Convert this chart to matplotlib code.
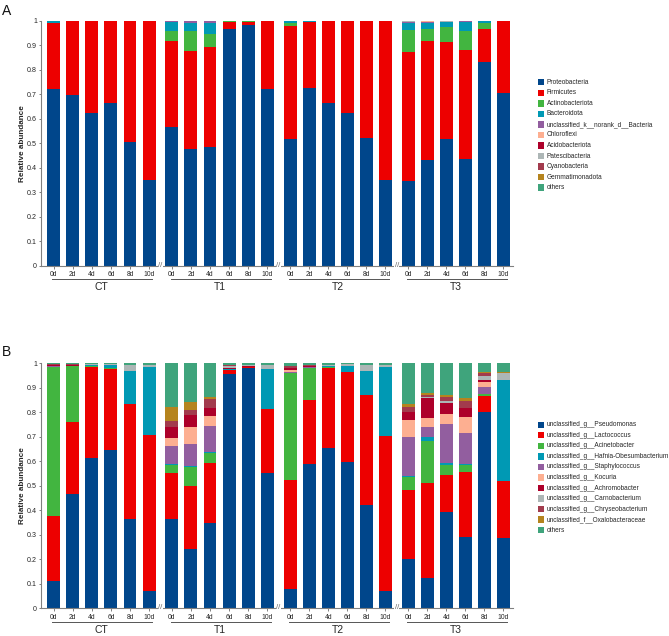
import matplotlib
matplotlib.use('Agg')
import matplotlib.pyplot as plt
from matplotlib.patches import Rectangle
import numpy as np

plt.rcParams['font.family'] = ['Liberation Sans', 'DejaVu Sans']

# sample layout
groups = ['CT', 'T1', 'T2', 'T3']
days = ['0d', '2d', '4d', '6d', '8d', '10d']

# ---- panel A: phylum level (CT 0-10d, T1 0-10d, T2 0-10d, T3 0-10d) ----
phylum_names = ['Proteobacteria', 'Firmicutes', 'Actinobacteriota', 'Bacteroidota',
                'unclassified_k__norank_d__Bacteria', 'Chloroflexi', 'Acidobacteriota',
                'Patescibacteria', 'Cyanobacteria', 'Gemmatimonadota', 'others']
proteobacteria = [.72, .695, .622, .665, .505, .35,
                  .568, .478, .484, .967, .983, .72,
                  .517, .727, .664, .623, .522, .35,
                  .346, .431, .517, .437, .833, .703]
firmicutes = [.27, .302, .377, .334, .494, .65,
              .349, .398, .409, .029, .013, .28,
              .461, .269, .336, .377, .478, .65,
              .526, .486, .397, .445, .132, .297]
actinobacteriota = [.002, 0, 0, 0, 0, 0,
                    .04, .081, .052, .004, .004, 0,
                    .011, 0, 0, 0, 0, 0,
                    .091, .049, .059, .077, .024, 0]
bacteroidota = [.006, .003, .001, .001, .001, 0,
                .038, .033, .045, 0, 0, 0,
                .011, .004, 0, 0, 0, 0,
                .029, .023, .023, .037, .011, 0]
uncl_bacteria = [.001, 0, 0, 0, 0, 0,
                 .005, .007, .007, 0, 0, 0,
                 0, 0, 0, 0, 0, 0,
                 .004, .005, 0, .004, 0, 0]
chloroflexi = [0] * 18 + [0, .003, 0, 0, 0, 0]
acidobacteriota = [0] * 18 + [0, .001, 0, 0, 0, 0]
patescibacteria = [0, 0, 0, 0, 0, 0,
                   0, .003, .003, 0, 0, 0,
                   0, 0, 0, 0, 0, 0,
                   .004, .002, .004, 0, 0, 0]
cyanobacteria = [0] * 24
gemmatimonadota = [0] * 24
phylum_others = [.001] + [0] * 23

phylum_values = [proteobacteria, firmicutes, actinobacteriota, bacteroidota, uncl_bacteria,
                 chloroflexi, acidobacteriota, patescibacteria, cyanobacteria,
                 gemmatimonadota, phylum_others]

# ---- panel B: genus level ----
genus_names = ['unclassified_g__Pseudomonas', 'unclassified_g__Lactococcus',
               'unclassified_g__Acinetobacter', 'unclassified_g__Hafnia-Obesumbacterium',
               'unclassified_g__Staphylococcus', 'unclassified_g__Kocuria',
               'unclassified_g__Achromobacter', 'unclassified_g__Carnobacterium',
               'unclassified_g__Chryseobacterium', 'unclassified_f__Oxalobacteraceae', 'others']
pseudomonas = [.11, .465, .615, .648, .365, .07,
               .363, .242, .35, .956, .98, .553,
               .078, .589, .656, .599, .42, .071,
               .201, .125, .392, .29, .8, .288]
lactococcus = [.265, .295, .37, .33, .47, .636,
               .19, .258, .242, .017, .006, .259,
               .446, .261, .326, .367, .449, .634,
               .282, .387, .154, .265, .065, .233]
acinetobacter = [.61, .228, .004, .001, 0, 0,
                 .032, .078, .042, 0, 0, 0,
                 .435, .132, .004, 0, 0, 0,
                 .054, .171, .039, .031, .008, 0]
hafnia = [0, 0, .003, .014, .133, .277,
          .003, .003, .005, .005, 0, .165,
          0, 0, .003, .024, .1, .279,
          .004, .017, .007, .003, 0, .411]
staphylococcus = [.002, .002, 0, 0, 0, 0,
                  .076, .088, .106, 0, 0, 0,
                  .006, .003, 0, 0, 0, 0,
                  .158, .041, .16, .128, .029, 0]
kocuria = [.002, .001, 0, 0, 0, 0,
           .03, .07, .041, 0, 0, 0,
           .007, .001, 0, 0, 0, 0,
           .07, .034, .041, .063, .02, 0]
achromobacter = [.003, .002, .001, 0, 0, 0,
                 .047, .05, .033, .001, .004, 0,
                 .007, .002, 0, 0, 0, 0,
                 .033, .085, .044, .039, .01, 0]
carnobacterium = [.003, .002, .003, .003, .025, .01,
                  0, 0, 0, .012, .003, .016,
                  .002, .003, .004, .006, .024, .01,
                  0, .004, .01, 0, .017, .027]
chryseobacterium = [.002, .002, .001, .001, .001, .001,
                    .024, .021, .034, .001, .002, .001,
                    .007, .004, .001, 0, 0, 0,
                    .018, .007, .017, .029, .01, 0]
oxalobacteraceae = [0, 0, 0, 0, 0, 0,
                    .058, .031, .011, 0, 0, 0,
                    0, 0, 0, 0, 0, 0,
                    .013, .006, .007, .009, .004, .004]
genus_others = [.003, .003, .003, .003, .006, .006,
                .177, .159, .136, .008, .005, .006,
                .012, .005, .006, .004, .007, .006,
                .167, .123, .129, .143, .037, .037]

genus_values = [pseudomonas, lactococcus, acinetobacter, hafnia, staphylococcus, kocuria,
                achromobacter, carnobacterium, chryseobacterium, oxalobacteraceae, genus_others]

colors = ['#00468B', '#ED0000', '#42B540', '#0099B4', '#925E9F', '#FDAF91',
          '#AD002A', '#ADB6B6', '#A23B4D', '#B5841E', '#3FA47C']

W, H = 669, 636
AXIS_GRAY = '#808080'
TXT = '#262626'


def px_box(left, top, right, bottom):
    return [left / W, 1 - bottom / H, (right - left) / W, (bottom - top) / H]


def draw_panel(fig, rect, values, names, letter, letter_y, legend_y0):
    ax = fig.add_axes(rect)
    ax_h = rect[3] * H
    x = []
    for g in range(len(groups)):
        x += [g * 6.2 + i for i in range(len(days))]
    x = np.array(x)

    bottom = np.zeros(len(x))
    for vals, col in zip(values, colors):
        vals = np.array(vals, dtype=float)
        ax.bar(x, vals, width=0.68, bottom=bottom, color=col, linewidth=0)
        bottom += vals

    ax.set_xlim(-0.67, 24.1)
    ax.set_ylim(0, 1)
    for s in ['top', 'right']:
        ax.spines[s].set_visible(False)
    for s in ['left', 'bottom']:
        ax.spines[s].set_color(AXIS_GRAY)
        ax.spines[s].set_linewidth(0.8)

    yt = np.round(np.arange(0, 1.01, 0.1), 1)
    ax.set_yticks(yt)
    ax.set_yticklabels(['0' if v == 0 else ('1' if v == 1 else f'{v:g}') for v in yt])
    ax.set_xticks(x)
    ax.set_xticklabels(days * len(groups))
    ax.tick_params(axis='y', length=1.6, width=0.7, color=AXIS_GRAY, pad=1.2,
                   labelsize=5.1, labelcolor=TXT)
    ax.tick_params(axis='x', length=1.8, width=0.7, color=AXIS_GRAY, pad=2.2,
                   labelsize=4.9, labelcolor=TXT)

    ax.text(-18.5 / (rect[2] * W), 0.5, 'Relative abundance', transform=ax.transAxes,
            rotation=90, ha='center', va='center', fontsize=5.9, fontweight='bold', color=TXT)

    trans = ax.get_xaxis_transform()
    for g, name in enumerate(groups):
        x0 = g * 6.2 - 0.07
        x1 = g * 6.2 + 5 + 0.18
        ax.plot([x0, x1], [-13.6 / ax_h] * 2, color='#555555', lw=0.7,
                transform=trans, clip_on=False)
        ax.text(g * 6.2 + 2.5, -21.6 / ax_h, name, transform=trans, ha='center',
                va='center', fontsize=7.5, color=TXT)
        if g > 0:
            # axis break marks between groups
            mid = g * 6.2 - 0.6
            ax.text(mid, 0.5 / ax_h, '//', transform=trans, ha='center', va='center',
                    fontsize=5.5, color='#666666', clip_on=False,
                    bbox=dict(boxstyle='square,pad=0.02', fc='white', ec='none'))

    fig.text(2 / W, 1 - letter_y / H, letter, fontsize=10, ha='left', va='top', color='#111111')

    # legend
    for k, (name, col) in enumerate(zip(names, colors)):
        cy = legend_y0 + k * 10.55
        fig.add_artist(Rectangle((537.7 / W, 1 - (cy + 3.2) / H), 6.3 / W, 6.4 / H,
                                 transform=fig.transFigure, color=col, lw=0))
        fig.text(546.5 / W, 1 - cy / H, name, fontsize=4.7, ha='left', va='center',
                 color=TXT)
    return ax


fig = plt.figure(figsize=(W / 100, H / 100), dpi=100)
draw_panel(fig, px_box(41, 20.7, 513, 265.7), phylum_values, phylum_names, 'A', 4.0, 82.2)
draw_panel(fig, px_box(41, 363.3, 513, 608.3), genus_values, genus_names, 'B', 345.5, 424.7)

fig.savefig('out.png', dpi=100)
